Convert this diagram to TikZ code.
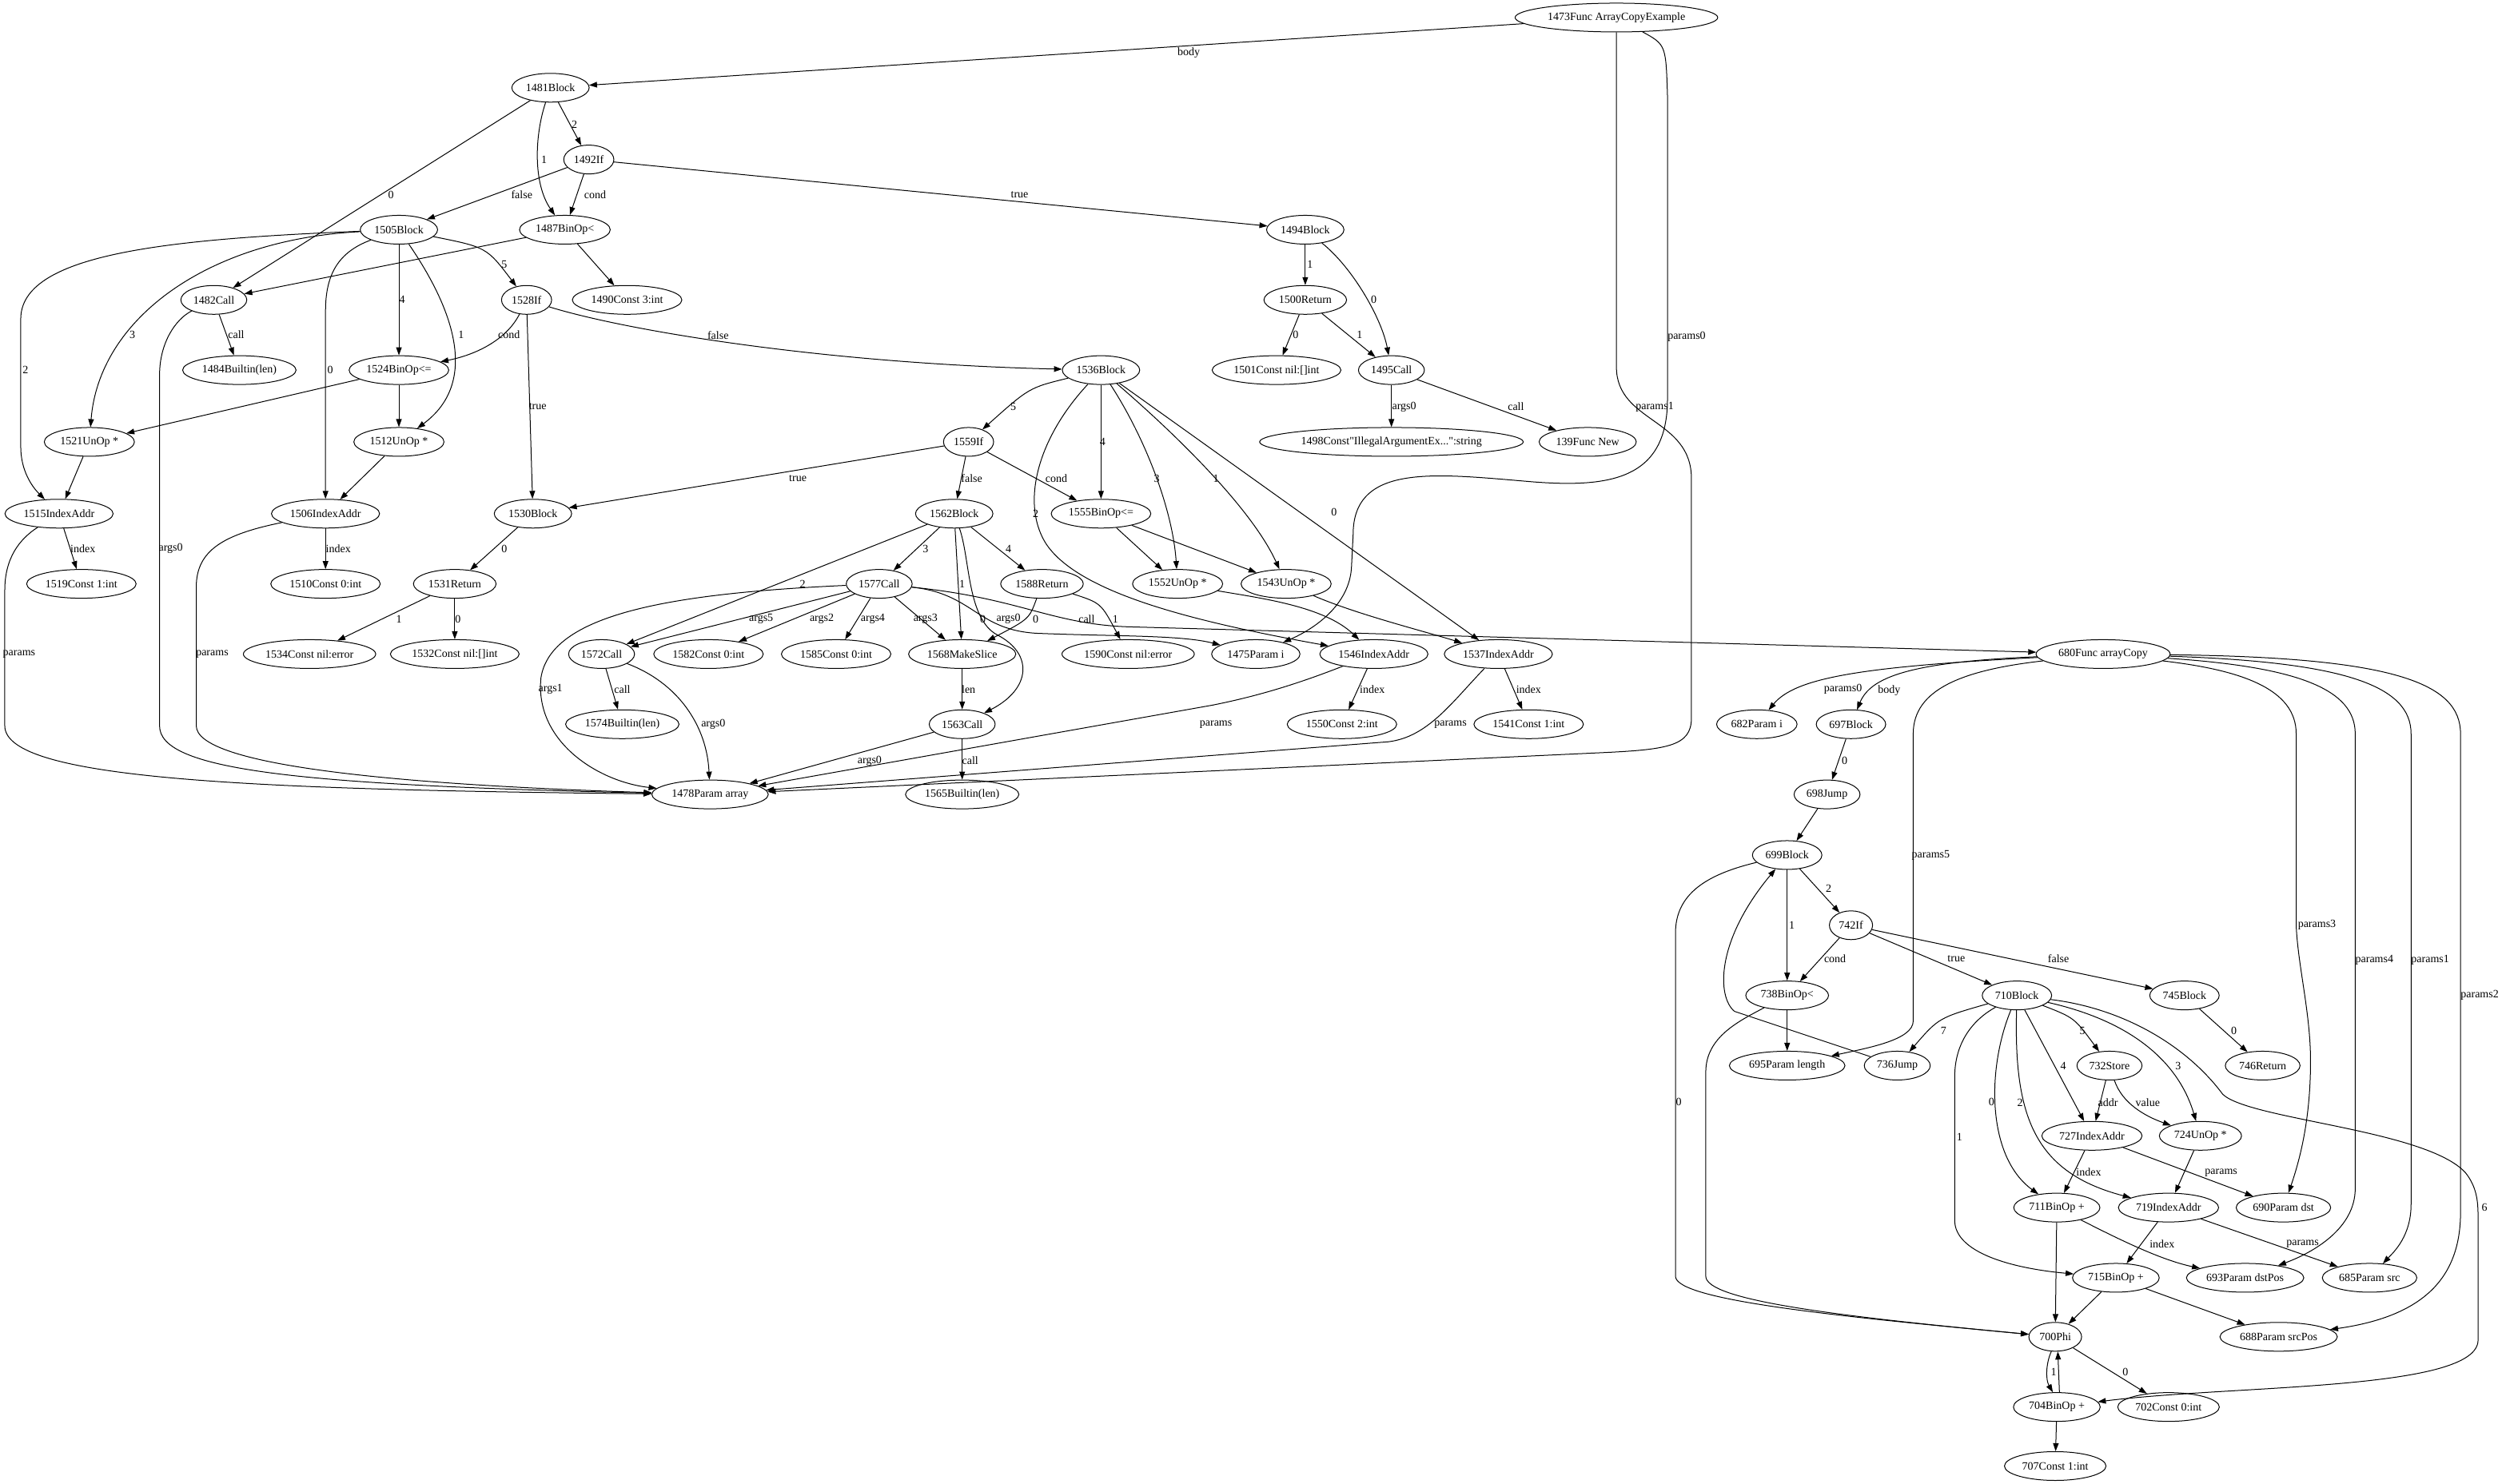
\documentclass[tikz,border=0pt]{standalone}
\usepackage{fontspec}
\setmainfont{Liberation Serif}[Ligatures=TeXOff]
\usetikzlibrary{shapes.geometric,arrows.meta}

\tikzset{
  nd/.style={draw, ellipse, line width=1pt, minimum width=54pt, minimum height=36pt,
    inner xsep=3.5pt, inner ysep=1pt, font=\fontsize{14}{16}\selectfont},
  lab/.style={inner sep=0pt, font=\fontsize{14}{16}\selectfont},
  link/.style={draw, line width=1pt, -{Triangle[length=10pt,width=7pt]}}
}

\begin{document}
\begin{tikzpicture}[x=1.996pt, y=-1.996pt]
            \useasboundingbox (0,0) rectangle (1568,930);

            % nodes
            \foreach \nm/\x/\y/\txt in {
            n1473/1013/11/{1473Func ArrayCopyExample},
            n1481/345/55/{1481Block},
            n1492/369/100/{1492If},
            n1505/250/144/{1505Block},
            n1487/354/144/{1487BinOp<},
            n1494/818/144/{1494Block},
            n1482/134/188/{1482Call},
            n1528/330/188/{1528If},
            n1490/393/188/{1490Const 3:int},
            n1500/818/188/{1500Return},
            n1484/150/232/{1484Builtin(len)},
            n1524/250/232/{1524BinOp<=},
            n1536/690/232/{1536Block},
            n1501/800/232/{1501Const nil:[]int},
            n1495/872/232/{1495Call},
            n1521/56/277/{1521UnOp *},
            n1512/250/277/{1512UnOp *},
            n1559/607/277/{1559If},
            n1498/872/277/{1498Const"IllegalArgumentEx...":string},
            n139/995/277/{139Func New},
            n1515/37/322/{1515IndexAddr},
            n1506/204/322/{1506IndexAddr},
            n1530/334/322/{1530Block},
            n1562/598/322/{1562Block},
            n1555/690/322/{1555BinOp<=},
            n1519/51/366/{1519Const 1:int},
            n1510/204/366/{1510Const 0:int},
            n1531/285/366/{1531Return},
            n1577/551/366/{1577Call},
            n1588/653/366/{1588Return},
            n1552/738/366/{1552UnOp *},
            n1543/806/366/{1543UnOp *},
            n1534/194/410/{1534Const nil:error},
            n1532/285/410/{1532Const nil:[]int},
            n1572/377/410/{1572Call},
            n1582/444/410/{1582Const 0:int},
            n1585/524/410/{1585Const 0:int},
            n1568/603/410/{1568MakeSlice},
            n1590/707/410/{1590Const nil:error},
            n1475/787/410/{1475Param i},
            n1546/861/410/{1546IndexAddr},
            n1537/939/410/{1537IndexAddr},
            n680/1318/410/{680Func arrayCopy},
            n1574/390/454/{1574Builtin(len)},
            n1563/603/454/{1563Call},
            n1550/841/454/{1550Const 2:int},
            n1541/958/454/{1541Const 1:int},
            n682/1101/454/{682Param i},
            n697/1160/454/{697Block},
            n1478/445/498/{1478Param array},
            n1565/603/498/{1565Builtin(len)},
            n698/1145/498/{698Jump},
            n699/1120/536/{699Block},
            n742/1160/580/{742If},
            n738/1120/624/{738BinOp<},
            n710/1264/624/{710Block},
            n745/1369/624/{745Block},
            n695/1120/668/{695Param length},
            n736/1189/668/{736Jump},
            n732/1322/668/{732Store},
            n746/1418/668/{746Return},
            n727/1311/712/{727IndexAddr},
            n724/1379/712/{724UnOp *},
            n711/1289/757/{711BinOp +},
            n719/1359/757/{719IndexAddr},
            n690/1431/757/{690Param dst},
            n715/1326/801/{715BinOp +},
            n693/1407/801/{693Param dstPos},
            n685/1485/801/{685Param src},
            n700/1288/838/{700Phi},
            n688/1428/838/{688Param srcPos},
            n704/1289/882/{704BinOp +},
            n702/1359/882/{702Const 0:int},
            n707/1288/919/{707Const 1:int}
            }
            {
                \node[nd] (\nm) at (\x,\y) {\txt};
            }

            % ArrayCopyExample
            \draw[link] (n1473) -- (n1481);
            \draw[link] (n1473) .. controls (1044,28) .. (1045,60) -- (1045,250)
              .. controls (1045,300) and (1010,306) .. (960,302)
              .. controls (900,297) and (848,290) .. (848,335) -- (847,355)
              .. controls (846,380) and (822,395) .. (n1475);
            \draw[link] (n1473) -- (1013,230) .. controls (1013,265) and (1060,262) .. (1060,300)
              -- (1060,450) .. controls (1060,468) and (1045,470) .. (1000,472) -- (n1478);
            \draw[link] (n1481) -- (n1482);
            \draw[link] (n1481) .. controls (335,85) and (334,115) .. (n1487);
            \draw[link] (n1481) -- (n1492);
            \draw[link] (n1492) -- (n1505);
            \draw[link] (n1492) -- (n1487);
            \draw[link] (n1492) -- (n1494);
            \draw[link] (n1487) -- (n1482);
            \draw[link] (n1487) -- (n1490);
            \draw[link] (n1505) .. controls (305,155) .. (n1528);
            \draw[link] (n1505) -- (n1524);
            \draw[link] (n1505) .. controls (285,195) and (300,240) .. (n1512);
            \draw[link] (n1505) .. controls (212,158) and (204,172) .. (204,195) -- (n1506);
            \draw[link] (n1505) .. controls (130,150) and (62,200) .. (n1521);
            \draw[link] (n1505) .. controls (100,150) and (13,160) .. (13,200) -- (13,280)
              .. controls (13,295) and (20,305) .. (n1515);
            \draw[link] (n1524) -- (n1521);
            \draw[link] (n1524) -- (n1512);
            \draw[link] (n1521) -- (n1515);
            \draw[link] (n1512) -- (n1506);
            \draw[link] (n1482) -- (n1484);
            \draw[link] (n1482) .. controls (110,200) and (100,215) .. (100,235) -- (100,455)
              .. controls (100,482) and (180,492) .. (n1478);
            \draw[link] (n1515) -- (n1519);
            \draw[link] (n1515) .. controls (12,338) and (3,350) .. (3,370) -- (3,455)
              .. controls (3,488) and (150,495) .. (n1478);
            \draw[link] (n1506) -- (n1510);
            \draw[link] (n1506) .. controls (140,335) and (123,345) .. (123,368) -- (123,455)
              .. controls (123,480) and (250,492) .. (n1478);
            \draw[link] (n1528) .. controls (318,212) and (300,222) .. (n1524);
            \draw[link] (n1528) -- (n1530);
            \draw[link] (n1528) .. controls (395,208) and (520,228) .. (n1536);
            \draw[link] (n1530) -- (n1531);
            \draw[link] (n1531) -- (n1534);
            \draw[link] (n1531) -- (n1532);
            \draw[link] (n1494) -- (n1500);
            \draw[link] (n1494) .. controls (848,168) and (866,200) .. (n1495);
            \draw[link] (n1500) -- (n1501);
            \draw[link] (n1500) -- (n1495);
            \draw[link] (n1495) -- (n1498);
            \draw[link] (n1495) -- (n139);
            \draw[link] (n1536) .. controls (645,243) .. (n1559);
            \draw[link] (n1536) -- (n1555);
            \draw[link] (n1536) .. controls (718,275) and (735,320) .. (n1552);
            \draw[link] (n1536) .. controls (740,275) and (785,320) .. (n1543);
            \draw[link] (n1536) .. controls (650,275) and (640,315) .. (655,340)
              .. controls (675,372) and (750,390) .. (n1546);
            \draw[link] (n1536) -- (n1537);
            \draw[link] (n1559) -- (n1530);
            \draw[link] (n1559) -- (n1562);
            \draw[link] (n1559) -- (n1555);
            \draw[link] (n1555) -- (n1552);
            \draw[link] (n1555) -- (n1543);
            \draw[link] (n1562) -- (n1572);
            \draw[link] (n1562) -- (n1577);
            \draw[link] (n1562) -- (n1568);
            \draw[link] (n1562) .. controls (608,350) and (606,388) .. (625,398)
              .. controls (648,410) and (646,432) .. (n1563);
            \draw[link] (n1562) -- (n1588);
            \draw[link] (n1577) .. controls (420,372) and (345,385) .. (339,425)
              .. controls (335,465) and (375,490) .. (n1478);
            \draw[link] (n1577) -- (n1572);
            \draw[link] (n1577) -- (n1582);
            \draw[link] (n1577) -- (n1585);
            \draw[link] (n1577) -- (n1568);
            \draw[link] (n1577) .. controls (610,372) and (612,395) .. (650,397)
              .. controls (700,399) and (740,398) .. (n1475);
            \draw[link] (n1577) .. controls (640,375) and (660,392) .. (710,393) -- (n680);
            \draw[link] (n1588) .. controls (645,388) .. (n1568);
            \draw[link] (n1588) .. controls (690,378) .. (n1590);
            \draw[link] (n1552) .. controls (790,375) and (830,380) .. (n1546);
            \draw[link] (n1543) .. controls (850,385) and (890,395) .. (n1537);
            \draw[link] (n1568) -- (n1563);
            \draw[link] (n1572) -- (n1574);
            \draw[link] (n1572) .. controls (425,428) and (443,455) .. (n1478);
            \draw[link] (n1563) -- (n1478);
            \draw[link] (n1563) -- (n1565);
            \draw[link] (n1546) -- (n1550);
            \draw[link] (n1546) .. controls (815,428) and (790,436) .. (760,442) -- (n1478);
            \draw[link] (n1537) -- (n1541);
            \draw[link] (n1537) .. controls (910,440) and (895,462) .. (870,465) -- (n1478);

            % arrayCopy
            \draw[link] (n680) .. controls (1165,418) and (1125,425) .. (n682);
            \draw[link] (n680) .. controls (1195,415) and (1172,425) .. (n697);
            \draw[link] (n680) .. controls (1230,420) and (1199,432) .. (1199,460) -- (1199,640)
              .. controls (1199,652) and (1170,657) .. (n695);
            \draw[link] (n680) .. controls (1405,420) and (1439,432) .. (1439,460) -- (1439,580)
              .. controls (1440,605) and (1448,635) .. (1448,665)
              .. controls (1448,700) and (1442,725) .. (n690);
            \draw[link] (n680) .. controls (1440,418) and (1476,432) .. (1476,460) -- (1476,745)
              .. controls (1476,770) and (1450,785) .. (n693);
            \draw[link] (n680) .. controls (1470,415) and (1511,430) .. (1511,460) -- (1511,755)
              .. controls (1511,775) and (1500,785) .. (n685);
            \draw[link] (n680) .. controls (1500,412) and (1542,428) .. (1542,460) -- (1542,760)
              .. controls (1542,800) and (1520,825) .. (n688);
            \draw[link] (n697) -- (n698);
            \draw[link] (n698) -- (n699);
            \draw[link] (n699) -- (n742);
            \draw[link] (n699) -- (n738);
            \draw[link] (n699) .. controls (1070,548) and (1050,560) .. (1050,585) -- (1050,800)
              .. controls (1050,815) and (1150,825) .. (n700);
            \draw[link] (n738) -- (n695);
            \draw[link] (n738) .. controls (1090,640) and (1069,650) .. (1069,672) -- (1069,800)
              .. controls (1069,815) and (1150,825) .. (n700);
            \draw[link] (n742) -- (n738);
            \draw[link] (n742) -- (n710);
            \draw[link] (n742) -- (n745);
            \draw[link] (n736) -- (1087,634) .. controls (1076,625) and (1075,590) .. (n699);
            \draw[link] (n745) -- (n746);
            \draw[link] (n710) .. controls (1215,638) .. (n736);
            \draw[link] (n710) .. controls (1300,638) .. (n732);
            \draw[link] (n710) -- (n727);
            \draw[link] (n710) .. controls (1335,640) and (1365,665) .. (n724);
            \draw[link] (n710) .. controls (1245,670) and (1245,725) .. (n711);
            \draw[link] (n710) .. controls (1262,700) and (1275,735) .. (n719);
            \draw[link] (n710) .. controls (1235,640) and (1225,655) .. (1225,675) -- (1225,765)
              .. controls (1225,785) and (1260,795) .. (n715);
            \draw[link] (n710) .. controls (1330,632) and (1370,655) .. (1393,686)
              .. controls (1410,702) and (1520,708) .. (1545,735)
              .. controls (1553,745) and (1553,755) .. (1553,765) -- (1553,840)
              .. controls (1553,872) and (1400,868) .. (n704);
            \draw[link] (n732) -- (n727);
            \draw[link] (n732) .. controls (1330,692) and (1345,700) .. (n724);
            \draw[link] (n727) -- (n711);
            \draw[link] (n727) -- (n690);
            \draw[link] (n724) -- (n719);
            \draw[link] (n719) -- (n715);
            \draw[link] (n719) -- (n685);
            \draw[link] (n711) -- (n700);
            \draw[link] (n711) .. controls (1330,778) and (1355,790) .. (n693);
            \draw[link] (n715) -- (n700);
            \draw[link] (n715) -- (n688);
            \draw[link] (n700.-105) .. controls (1282,855) and (1282,865) .. (n704.105);
            \draw[link] (n700) -- (n702);
            \draw[link] (n704.80) -- (n700.-80);
            \draw[link] (n704) -- (n707);

            % edge labels
            \foreach \x/\y/\txt [count=\i] in {
            745/33/body, 1057/211/params0, 1037/255/params1,
            245/122/0, 341/100/1, 360/78/2, 327/122/false, 373/122/cond, 639/122/true,
            316/166/5, 252/188/4, 289/210/1, 207/232/0, 83/210/3, 16/232/2,
            148/210/call, 107/344/args0, 12/410/params, 133/410/params,
            52/344/index, 212/344/index, 319/210/cond, 337/255/true, 450/210/false,
            316/344/0, 250/388/1, 287/388/0,
            821/166/1, 861/188/0, 812/210/0, 852/210/1, 880/255/args0, 950/255/call,
            635/255/5, 691/277/4, 725/300/3, 762/300/1, 649/322/2, 836/321/0,
            500/300/true, 609/300/false, 662/300/cond,
            503/366/2, 580/344/3, 603/366/1, 616/388/0, 632/344/4,
            345/432/args1, 477/388/args5, 515/388/args2, 547/388/args4, 580/388/args3,
            632/388/args0, 681/388/call, 649/388/0, 699/388/1,
            607/432/len, 390/432/call, 447/454/args0, 545/477/args0, 608/477/call,
            860/432/index, 762/454/params, 958/432/index, 909/454/params,
            1155/432/params0, 1184/433/body, 1210/536/params5, 1452/580/params3,
            1488/602/params4, 1523/602/params1, 1554/624/params2,
            1156/477/0, 1146/557/2, 1123/580/1, 1052/691/0,
            1150/601/cond, 1226/601/true, 1290/601/false,
            1218/646/7, 1305/646/5, 1293/668/4, 1365/668/3, 1248/691/0, 1266/691/2,
            1228/713/1, 1557/757/6, 1321/691/addr, 1346/691/value,
            1309/735/index, 1392/735/params, 1355/780/index, 1443/780/params,
            1287/860/1, 1332/860/0, 1400/646/0
            }
            {
                \node[lab] (lab\i) at (\x,\y) {\txt};
            }
\end{tikzpicture}
\end{document}
